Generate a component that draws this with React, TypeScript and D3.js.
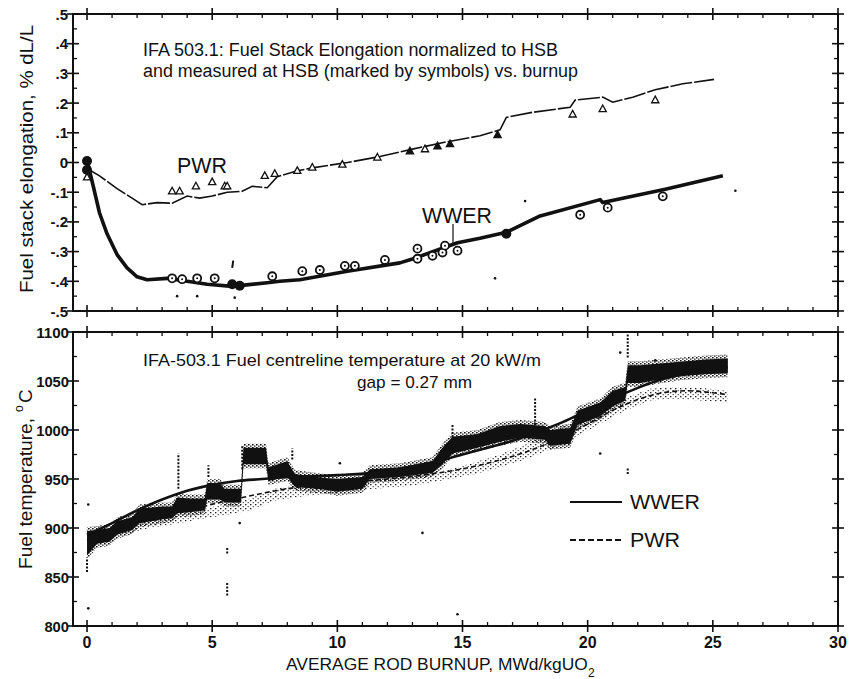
import React from 'react';
import * as d3 from 'd3';

// ---------- axis ticks ----------
const xMajorTicks = [0, 5, 10, 15, 20, 25, 30];
const xTickLabels = ['0', '5', '10', '15', '20', '25', '30'];
const elongTicks = [0.5, 0.4, 0.3, 0.2, 0.1, 0, -0.1, -0.2, -0.3, -0.4, -0.5];
const elongTickLabels = ['.5', '.4', '.3', '.2', '.1', '0', '-.1', '-.2', '-.3', '-.4', '-.5'];
const tempTicks = [800, 850, 900, 950, 1000, 1050, 1100];
const tempTickLabels = ['800', '850', '900', '950', '1000', '1050', '1100'];

// ---------- top panel: stack elongation ----------
const pwrElongX = [0, 0.5, 1.2, 1.8, 2.2, 2.8, 3.4, 4.0, 4.5, 5.0, 5.6, 6.2, 6.6, 7.2, 7.6, 8.4, 9.0, 10.4, 11.7, 13.0, 14.4, 15.7, 16.5, 16.75, 17.8, 19.3, 19.5, 20.6, 21.0, 21.8, 22.7, 23.8, 25.05];
const pwrElongV = [-0.02, -0.045, -0.088, -0.12, -0.142, -0.135, -0.137, -0.113, -0.12, -0.113, -0.1, -0.097, -0.08, -0.085, -0.048, -0.028, -0.018, 0.0, 0.02, 0.045, 0.07, 0.09, 0.11, 0.152, 0.169, 0.186, 0.21, 0.22, 0.203, 0.22, 0.245, 0.265, 0.28];

const wwerElongX = [0, 0.05, 0.25, 0.5, 0.8, 1.2, 1.6, 2.0, 2.4, 3.2, 4.0, 4.8, 5.8, 7.2, 7.7, 8.5, 10.4, 12.5, 13.0, 14.8, 15.7, 16.75, 18.1, 20.5, 20.6, 23.1, 25.4];
const wwerElongV = [0.0, -0.01, -0.08, -0.17, -0.24, -0.31, -0.355, -0.385, -0.395, -0.39, -0.4, -0.41, -0.417, -0.405, -0.4, -0.395, -0.366, -0.338, -0.325, -0.27, -0.255, -0.235, -0.18, -0.125, -0.135, -0.09, -0.045];

const wwerHsbX = [3.4, 3.8, 4.4, 5.1, 7.4, 8.6, 9.3, 10.3, 10.7, 11.9, 13.2, 13.2, 13.8, 14.2, 14.3, 14.8, 19.7, 20.8, 23.0];
const wwerHsbV = [-0.39, -0.393, -0.39, -0.39, -0.383, -0.366, -0.362, -0.348, -0.348, -0.328, -0.29, -0.324, -0.314, -0.303, -0.28, -0.297, -0.176, -0.152, -0.114];
const wwerHsbFilledX = [0, 0, 5.8, 6.1, 16.75];
const wwerHsbFilledV = [0.005, -0.025, -0.41, -0.415, -0.24];

const pwrHsbX = [0, 3.4, 3.7, 4.35, 5.0, 5.5, 5.6, 7.1, 7.5, 8.4, 9.0, 10.2, 11.6, 13.5, 19.4, 20.6, 22.7];
const pwrHsbV = [-0.05, -0.097, -0.097, -0.08, -0.066, -0.08, -0.08, -0.045, -0.038, -0.028, -0.017, -0.007, 0.017, 0.045, 0.162, 0.18, 0.21];
const pwrHsbFilledX = [12.9, 14.0, 14.5, 16.4];
const pwrHsbFilledV = [0.038, 0.055, 0.062, 0.093];

const elongStrayX = [3.6, 4.4, 5.9, 16.3, 17.5, 25.9];
const elongStrayV = [-0.45, -0.45, -0.455, -0.39, -0.13, -0.095];
const elongSpikeX = [5.8];
const elongSpikeLo = [-0.355];
const elongSpikeHi = [-0.33];

// ---------- bottom panel: centreline temperature ----------
const wwerModelX = [0, 1, 2, 3, 4, 5, 6, 7, 8, 10, 12, 13, 14, 15, 16, 17, 18, 19, 20, 21, 22, 23, 24, 25, 25.6];
const wwerModelT = [893, 905, 918, 929, 938, 944, 948, 950, 952, 954, 958, 963, 968, 975, 982, 989, 998, 1008, 1020, 1032, 1043, 1052, 1058, 1062, 1064];

const pwrModelX = [0, 2, 4, 6, 8, 10, 12, 14, 16, 18, 19, 20, 21, 22, 23, 24, 25, 25.6];
const pwrModelT = [888, 905, 918, 930, 940, 946, 950, 956, 966, 982, 993, 1006, 1020, 1031, 1038, 1040, 1038, 1036];

// measured (dark) scatter envelope
const measX = [0.0, 0.4, 0.9, 1.2, 1.8, 2.1, 2.6, 3.0, 3.4, 3.6, 4.1, 4.7, 4.8, 5.3, 5.5, 6.15, 6.25, 7.15, 7.25, 8.0, 8.3, 9.5, 10.0, 11.0, 11.3, 12.5, 13.8, 14.2, 14.6, 15.6, 16.5, 17.3, 18.3, 18.5, 19.3, 19.6, 20.5, 21.0, 21.5, 21.6, 22.1, 23.0, 23.8, 24.7, 25.6];
const measLo = [872, 884, 886, 893, 898, 905, 907, 909, 910, 915, 916, 918, 929, 929, 926, 926, 965, 965, 948, 952, 942, 939, 937, 940, 950, 952, 956, 965, 976, 982, 988, 992, 990, 984, 986, 1005, 1014, 1024, 1030, 1048, 1048, 1052, 1055, 1057, 1058];
const measHi = [897, 898, 900, 907, 911, 920, 921, 922, 922, 931, 930, 930, 946, 946, 940, 940, 982, 982, 962, 968, 955, 951, 950, 952, 960, 962, 968, 982, 993, 996, 1004, 1006, 1004, 1000, 1002, 1020, 1028, 1040, 1044, 1066, 1066, 1068, 1070, 1072, 1073];

// second (lighter) scatter band
const lightX = [1.5, 2.5, 3.5, 4.5, 5.5, 6.5, 7.5, 8.5, 10, 11.5, 13, 14.5, 15.5, 16.5, 17.5, 18.5, 19.5, 20.5, 21.5, 22.5, 23.5, 24.5, 25.6];
const lightLo = [893, 900, 904, 909, 913, 918, 928, 932, 936, 940, 943, 950, 955, 962, 970, 980, 993, 1006, 1020, 1030, 1032, 1030, 1028];
const lightHi = [903, 910, 914, 918, 925, 930, 940, 944, 946, 950, 952, 960, 967, 975, 985, 998, 1010, 1022, 1033, 1042, 1044, 1043, 1040];

// vertical runs of outlying points
const spikeX = [0.0, 3.65, 4.85, 5.6, 5.6, 6.2, 8.2, 14.6, 17.9, 21.6, 21.6];
const spikeLo = [855, 940, 952, 831, 874, 960, 970, 978, 1005, 1074, 955];
const spikeHi = [870, 976, 964, 845, 880, 984, 981, 1005, 1033, 1098, 962];
// isolated points
const strayX = [0.05, 0.05, 6.1, 10.1, 13.4, 14.8, 20.5, 21.3, 22.7];
const strayT = [818, 924, 905, 966, 895, 812, 976, 1079, 1071];

const FONT = '"Liberation Sans", Arial, Helvetica, sans-serif';
const INK = '#111';

export default function App() {
  const x = d3.scaleLinear().domain([-0.56, 30]).range([73, 838]);
  const yE = d3.scaleLinear().domain([-0.5, 0.5]).range([311, 14]);
  const yT = d3.scaleLinear().domain([800, 1100]).range([626, 332]);

  const L = 73, R = 838;
  const topP = { t: 14, b: 311 };
  const botP = { t: 332, b: 626 };

  const mkLine = (xs: number[], ys: number[], sy: (v: number) => number, curve: any) =>
    d3.line<number>()
      .x((_, i) => x(xs[i]))
      .y((_, i) => sy(ys[i]))
      .curve(curve)(xs) as string;
  // pad > 0 widens the band by pad pixels on each side
  const mkArea = (xs: number[], lo: number[], hi: number[], pad = 0) =>
    d3.area<number>()
      .x((_, i) => x(xs[i]))
      .y0((_, i) => yT(lo[i]) + pad)
      .y1((_, i) => yT(hi[i]) - pad)
      .curve(d3.curveLinear)(xs) as string;

  const intTicks = d3.range(0, 31, 1);

  const hTicks = (y: number, dir: 1 | -1, key: string) =>
    intTicks.map((v) => {
      const major = v % 5 === 0;
      const px = x(v);
      return major ? (
        <line key={key + v} x1={px} x2={px} y1={y - 6} y2={y + 6} stroke={INK} strokeWidth={1.6} />
      ) : (
        <line key={key + v} x1={px} x2={px} y1={y} y2={y + dir * 4} stroke={INK} strokeWidth={1.3} />
      );
    });

  const vTicks = (xPos: number, dir: 1 | -1, scale: (v: number) => number, majors: number[], minors: number[], key: string) => (
    <g key={key}>
      {majors.map((v, i) => (
        <line key={key + 'M' + i} x1={xPos - 6} x2={xPos + 6} y1={scale(v)} y2={scale(v)} stroke={INK} strokeWidth={1.6} />
      ))}
      {minors.map((v, i) => (
        <line key={key + 'm' + i} x1={xPos} x2={xPos + dir * 4} y1={scale(v)} y2={scale(v)} stroke={INK} strokeWidth={1.3} />
      ))}
    </g>
  );

  const elongMinor = d3.range(-0.45, 0.5, 0.1);
  const tempMinor = d3.range(825, 1100, 50);

  const tri = (cx: number, cy: number) => `M${cx},${cy - 4} L${cx + 3.6},${cy + 2.6} L${cx - 3.6},${cy + 2.6} Z`;

  return (
    <svg width={849} height={679} style={{ position: 'absolute', left: 0, top: 0, background: '#fff' }} fontFamily={FONT}>
      <defs>
        <pattern id="stip" width="5" height="4" patternUnits="userSpaceOnUse">
          <rect x="0" y="0" width="1.4" height="1.3" fill="#222" />
          <rect x="2.6" y="2.1" width="1.2" height="1.1" fill="#333" />
        </pattern>
        <pattern id="stip2" width="4" height="3" patternUnits="userSpaceOnUse">
          <rect x="0" y="0" width="1.6" height="1.5" fill="#111" />
          <rect x="2.1" y="1.5" width="1.4" height="1.3" fill="#111" />
        </pattern>
      </defs>
      <rect width={849} height={679} fill="#fff" />

      {/* ---------- frames ---------- */}
      <rect x={L} y={topP.t} width={R - L} height={topP.b - topP.t} fill="none" stroke={INK} strokeWidth={2} />
      <rect x={L} y={botP.t} width={R - L} height={botP.b - botP.t} fill="none" stroke={INK} strokeWidth={2} />

      {/* ticks */}
      {hTicks(topP.t, 1, 'tt')}
      {hTicks(topP.b, -1, 'tb')}
      {hTicks(botP.t, 1, 'bt')}
      {hTicks(botP.b, -1, 'bb')}
      {vTicks(L, 1, yE, elongTicks, elongMinor, 'tl')}
      {vTicks(R, -1, yE, elongTicks, elongMinor, 'tr')}
      {vTicks(L, 1, yT, tempTicks, tempMinor, 'bl')}
      {vTicks(R, -1, yT, tempTicks, tempMinor, 'br')}

      {/* tick labels */}
      {elongTicks.map((v, i) => (
        <text key={'el' + i} x={68} y={yE(v) + 5.5} textAnchor="end" fontSize={15} fontWeight="bold" fill={INK}>
          {elongTickLabels[i]}
        </text>
      ))}
      {tempTicks.map((v, i) => (
        <text key={'tl' + i} x={69} y={yT(v) + 5.5} textAnchor="end" fontSize={15} fontWeight="bold" fill={INK} textLength={tempTickLabels[i].length * 8.2} lengthAdjust="spacingAndGlyphs">
          {tempTickLabels[i]}
        </text>
      ))}
      {xMajorTicks.map((v, i) => (
        <text key={'xl' + i} x={x(v)} y={648} textAnchor="middle" fontSize={16} fontWeight="bold" fill={INK}>
          {xTickLabels[i]}
        </text>
      ))}

      {/* axis titles */}
      <text transform="translate(33,293) rotate(-90)" fontSize={19} fill={INK} textLength={268} lengthAdjust="spacingAndGlyphs">
        Fuel stack elongation, % dL/L
      </text>
      <g transform="translate(32,569) rotate(-90)">
        <text x={0} y={0} fontSize={19} fill={INK} textLength={151} lengthAdjust="spacingAndGlyphs">Fuel temperature,</text>
        <text x={157} y={-9} fontSize={12} fill={INK}>o</text>
        <text x={166} y={0} fontSize={19} fill={INK}>C</text>
      </g>
      <text x={286} y={670} fontSize={17.4} fill={INK}>
        AVERAGE ROD BURNUP, MWd/kgUO
      </text>
      <text x={588} y={677} fontSize={12} fill={INK}>2</text>

      {/* ---------- top panel ---------- */}
      <text x={143} y={56} fontSize={18} fill={INK} textLength={415} lengthAdjust="spacingAndGlyphs">
        IFA 503.1: Fuel Stack Elongation normalized to HSB
      </text>
      <text x={143} y={77} fontSize={18} fill={INK} textLength={435} lengthAdjust="spacingAndGlyphs">
        and measured at HSB (marked by symbols) vs. burnup
      </text>
      <text x={177} y={173} fontSize={22} fill={INK} textLength={50} lengthAdjust="spacingAndGlyphs">PWR</text>
      <text x={422} y={223} fontSize={22} fill={INK} textLength={70} lengthAdjust="spacingAndGlyphs">WWER</text>
      <line x1={453} x2={453} y1={224} y2={246} stroke={INK} strokeWidth={1.2} />

      <path d={mkLine(pwrElongX, pwrElongV, yE, d3.curveLinear)} fill="none" stroke={INK} strokeWidth={1.6} strokeDasharray="22 2" />
      <path d={mkLine(wwerElongX, wwerElongV, yE, d3.curveLinear)} fill="none" stroke={INK} strokeWidth={3.6} strokeLinejoin="round" />

      {pwrHsbX.map((v, i) => (
        <path key={'pt' + i} d={tri(x(v), yE(pwrHsbV[i]))} fill="#fff" stroke={INK} strokeWidth={1.3} />
      ))}
      {pwrHsbFilledX.map((v, i) => (
        <path key={'ptf' + i} d={tri(x(v), yE(pwrHsbFilledV[i]))} fill={INK} stroke={INK} strokeWidth={1.3} />
      ))}
      {wwerHsbX.map((v, i) => (
        <g key={'wc' + i}>
          <circle cx={x(v)} cy={yE(wwerHsbV[i])} r={4} fill="#fff" stroke={INK} strokeWidth={1.8} />
          <circle cx={x(v)} cy={yE(wwerHsbV[i])} r={1} fill={INK} />
        </g>
      ))}
      {wwerHsbFilledX.map((v, i) => (
        <circle key={'wcf' + i} cx={x(v)} cy={yE(wwerHsbFilledV[i])} r={5} fill={INK} />
      ))}
      {elongStrayX.map((v, i) => (
        <circle key={'es' + i} cx={x(v)} cy={yE(elongStrayV[i])} r={1.3} fill={INK} />
      ))}
      {elongSpikeX.map((v, i) => (
        <line key={'esp' + i} x1={x(v)} x2={x(v) + 1} y1={yE(elongSpikeLo[i])} y2={yE(elongSpikeHi[i])} stroke={INK} strokeWidth={2} />
      ))}

      {/* ---------- bottom panel ---------- */}
      <text x={143} y={366} fontSize={17} fill={INK} textLength={398} lengthAdjust="spacingAndGlyphs">
        IFA-503.1 Fuel centreline temperature at 20 kW/m
      </text>
      <text x={357} y={388} fontSize={17} fill={INK} textLength={115} lengthAdjust="spacingAndGlyphs">
        gap = 0.27 mm
      </text>

      <path d={mkArea(lightX, lightLo, lightHi)} fill="url(#stip)" stroke="none" />
      <path d={mkLine(pwrModelX, pwrModelT, yT, d3.curveMonotoneX)} fill="none" stroke={INK} strokeWidth={1.6} strokeDasharray="5 3" />
      <path d={mkArea(measX, measLo, measHi, 4)} fill="url(#stip2)" stroke="none" />
      <path d={mkArea(measX, measLo, measHi, 0)} fill={INK} stroke="none" />
      <path d={mkLine(wwerModelX, wwerModelT, yT, d3.curveMonotoneX)} fill="none" stroke={INK} strokeWidth={2.6} />

      {spikeX.map((v, i) => (
        <line key={'sp' + i} x1={x(v)} x2={x(v)} y1={yT(spikeLo[i])} y2={yT(spikeHi[i])} stroke={INK} strokeWidth={2} strokeDasharray="2 1.5" />
      ))}
      {strayX.map((v, i) => (
        <circle key={'st' + i} cx={x(v)} cy={yT(strayT[i])} r={1.3} fill={INK} />
      ))}

      {/* legend */}
      <line x1={570} x2={622} y1={502} y2={502} stroke={INK} strokeWidth={2} />
      <text x={630} y={509} fontSize={21} fill={INK} textLength={70} lengthAdjust="spacingAndGlyphs">WWER</text>
      <line x1={570} x2={622} y1={540} y2={540} stroke={INK} strokeWidth={2} strokeDasharray="6 3" />
      <text x={630} y={547} fontSize={21} fill={INK} textLength={50} lengthAdjust="spacingAndGlyphs">PWR</text>
    </svg>
  );
}
